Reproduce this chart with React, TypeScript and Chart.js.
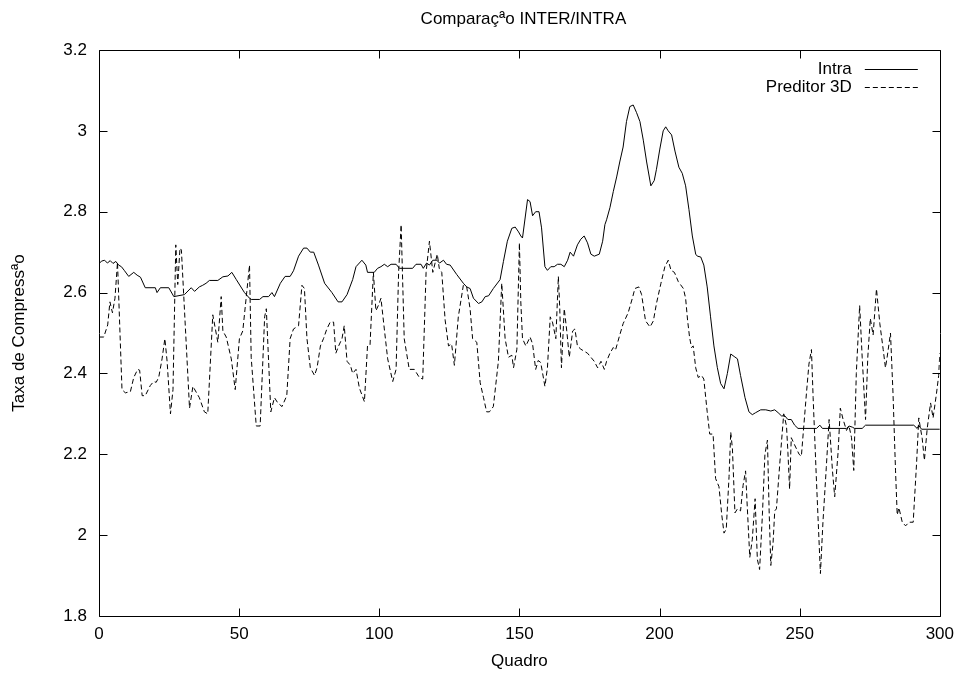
import React, { useEffect, useRef } from "react";
import { Chart, registerables } from "chart.js";

Chart.register(...registerables);

const chartTitle = "Comparaçªo INTER/INTRA";
const xTitle = "Quadro";
const yTitle = "Taxa de Compressªo";
const seriesNames = ["Intra", "Preditor 3D"];
const xTicks = [0, 50, 100, 150, 200, 250, 300];
const yTicks = [1.8, 2, 2.2, 2.4, 2.6, 2.8, 3, 3.2];

const intraFrames = [0,1,2,3,4,5,6,7,8,9,10.6,12.4,13.6,14.8,16.5,20.1,20.7,21.9,24.9,26.7,30.5,32.9,34.1,35.8,37,38.2,39.4,42.4,44.2,46,47.4,49,51.9,53.7,54.3,57.3,58.5,60.5,61.7,62.6,64.7,66.4,68.2,69.4,71.2,73,74.2,75.4,76.6,78.3,80.5,83.1,85.3,86.7,88.5,90.5,91.7,93.8,95.2,95.8,98.2,99.4,100.6,101.8,103,104.2,106,107.2,111.9,113.1,114.9,115.7,116.9,117.9,119.1,120.5,121.5,122.9,124,125.3,127.6,130,131.2,132.4,133.6,135.4,136.6,137.8,139,140.7,143.1,144.3,145.7,147.3,148.5,149.7,150.5,151.1,152.9,153.8,154.7,155.8,157,157.9,159.1,160,161.2,162.4,163.6,164.8,166,167.2,168.1,169.3,170.7,171.9,173.1,174.3,175.5,176.7,178.5,179.7,180.5,181.1,182.3,183.5,184.7,185.8,187,188.2,189.4,190.6,191.8,193,194.2,195.4,196.9,198.1,198.9,200.1,201.3,202.2,203.1,204.3,205.5,206.9,208.1,209.3,210.5,211.7,212.9,213.5,214.7,215.8,217,218.2,219.4,220.6,221.8,223,224.2,225.4,226.6,227.8,228.9,230.5,231.9,233.1,234.3,236.1,237.9,239.7,241.1,242.3,243.5,244.7,245.8,247,248.2,249.4,256,257.2,258.1,266.7,267.6,268.8,269.6,272.3,273.5,290.7,291.9,292.5,293.5,300];
const intraValues = [2.672,2.678,2.680,2.673,2.679,2.672,2.677,2.668,2.664,2.655,2.640,2.650,2.643,2.638,2.612,2.612,2.600,2.612,2.612,2.590,2.595,2.612,2.603,2.614,2.618,2.623,2.630,2.630,2.639,2.641,2.650,2.632,2.600,2.586,2.583,2.583,2.590,2.590,2.600,2.590,2.623,2.640,2.640,2.654,2.690,2.710,2.710,2.700,2.700,2.668,2.623,2.600,2.577,2.577,2.595,2.632,2.664,2.680,2.668,2.650,2.650,2.660,2.664,2.670,2.664,2.670,2.670,2.660,2.660,2.670,2.670,2.660,2.673,2.668,2.680,2.680,2.673,2.680,2.670,2.668,2.645,2.623,2.614,2.610,2.586,2.573,2.577,2.590,2.592,2.610,2.632,2.677,2.727,2.759,2.762,2.750,2.740,2.735,2.830,2.825,2.790,2.800,2.800,2.760,2.664,2.655,2.664,2.664,2.670,2.670,2.664,2.680,2.700,2.690,2.718,2.732,2.740,2.723,2.695,2.690,2.695,2.727,2.768,2.780,2.810,2.850,2.886,2.923,2.960,3.023,3.060,3.064,3.045,3.023,2.977,2.923,2.864,2.877,2.905,2.955,3.000,3.010,3.000,2.990,2.950,2.910,2.895,2.864,2.805,2.740,2.695,2.690,2.688,2.668,2.614,2.540,2.468,2.415,2.375,2.362,2.400,2.448,2.442,2.436,2.395,2.340,2.305,2.298,2.303,2.310,2.310,2.307,2.310,2.303,2.295,2.295,2.286,2.286,2.272,2.264,2.264,2.272,2.264,2.264,2.270,2.267,2.264,2.264,2.272,2.272,2.264,2.271,2.262,2.262];

const predFrames = [0,1.7,3.1,3.9,4.8,5.7,6.6,8.2,9.4,11.2,12.4,13.8,14.5,15.4,16.5,18.3,19.5,20.4,21.3,22.5,23.5,24.3,25.5,26.4,27.4,28.1,28.9,29.4,32.3,33.5,35.8,37.6,38.8,40.6,42.4,43.6,44.2,45.4,47.2,48.6,50.1,51.3,53.7,54.3,56.1,57.5,59.1,59.7,61.3,62.6,63.8,65.3,67,68.2,69.4,71.2,72.4,73.3,74.2,75.4,76.9,77.8,79,80.1,81.3,82.5,83.7,84.5,85.5,86.7,87.5,88.5,89.7,90.5,91.7,92.9,94.7,95.8,96.7,97.9,98.8,99.8,100.6,101.8,103,104.8,106,106.9,107.8,108.9,110.7,112.5,114.3,115.5,116.7,117.9,119.1,120.7,121.4,122.3,123.5,124.7,125.8,126.8,128.2,130,131.2,132.4,133.3,134.8,136,137.2,138.3,139.3,140.7,142.5,143.7,144.9,146.1,147.3,147.9,149.1,150,150.5,151.1,152.3,153.8,154.7,155.8,156.7,157.6,159.1,160,161,161.8,163,163.9,164.4,165,166,166.9,167.8,169,169.8,170.7,171.9,174.3,175.5,176.7,177.9,179.1,180.3,181.1,182.3,183.5,184.3,185.8,187,188.8,190.3,191.2,192.6,193.6,195,196.6,197.8,198.9,200.5,201.9,203.1,204.1,205.3,206.7,208.5,209.3,210,210.7,211.4,212,212.9,213.8,215,215.8,217,217.9,219.1,220,221.2,222.2,223,223.8,224.8,225.4,226,226.9,227.8,228.9,229.8,230.7,231.3,232.2,233.1,234.1,234.9,235.7,236.7,237.6,238.5,239.1,239.7,240.5,241.1,241.7,242.9,244.3,245.3,245.8,246.4,247,248.2,249.8,250.6,252.4,253.3,254.2,254.8,256,257.4,258.3,259.5,260.5,261.7,262.5,263.7,264.5,265.5,266.7,267.6,268.5,269.3,270.2,271.4,272.3,273.5,274.3,275.2,276.2,277.4,278.6,279.8,280.6,281.2,282.4,283.3,284.2,284.8,285.4,286.6,287.8,289,290.5,291.7,292.5,293.1,293.7,294.5,295.5,296.7,297.6,298.8,299.6,300];
const predValues = [2.490,2.490,2.520,2.577,2.550,2.586,2.675,2.360,2.352,2.355,2.390,2.410,2.408,2.345,2.345,2.370,2.380,2.378,2.390,2.436,2.486,2.430,2.300,2.360,2.718,2.620,2.710,2.705,2.314,2.368,2.340,2.305,2.300,2.545,2.477,2.590,2.505,2.490,2.436,2.360,2.486,2.505,2.668,2.440,2.270,2.270,2.540,2.560,2.305,2.340,2.327,2.318,2.345,2.486,2.510,2.518,2.618,2.610,2.486,2.414,2.395,2.414,2.468,2.486,2.510,2.527,2.527,2.450,2.468,2.486,2.518,2.430,2.420,2.400,2.410,2.364,2.330,2.468,2.470,2.650,2.555,2.570,2.586,2.510,2.436,2.380,2.410,2.650,2.768,2.486,2.410,2.410,2.390,2.386,2.650,2.727,2.650,2.695,2.660,2.650,2.532,2.468,2.473,2.420,2.540,2.618,2.614,2.560,2.486,2.477,2.377,2.340,2.305,2.305,2.318,2.430,2.623,2.486,2.440,2.445,2.414,2.460,2.723,2.577,2.486,2.468,2.490,2.473,2.410,2.432,2.427,2.368,2.414,2.540,2.527,2.486,2.640,2.560,2.414,2.560,2.505,2.440,2.505,2.510,2.468,2.460,2.450,2.440,2.430,2.414,2.430,2.410,2.430,2.450,2.464,2.458,2.495,2.523,2.550,2.586,2.610,2.614,2.595,2.530,2.515,2.530,2.573,2.623,2.664,2.680,2.655,2.650,2.627,2.610,2.586,2.532,2.490,2.464,2.468,2.414,2.390,2.395,2.386,2.305,2.250,2.250,2.140,2.120,2.050,2.005,2.015,2.145,2.255,2.214,2.055,2.065,2.060,2.123,2.159,2.070,1.945,1.990,2.090,1.940,1.915,2.050,2.200,2.235,2.060,1.925,1.980,2.060,2.065,2.177,2.300,2.270,2.205,2.114,2.241,2.223,2.200,2.195,2.350,2.423,2.459,2.340,2.132,1.905,2.032,2.168,2.286,2.159,2.095,2.205,2.314,2.286,2.259,2.270,2.241,2.160,2.400,2.568,2.440,2.286,2.440,2.536,2.495,2.609,2.523,2.459,2.414,2.440,2.500,2.350,2.159,2.050,2.068,2.032,2.023,2.032,2.032,2.177,2.290,2.264,2.240,2.185,2.264,2.327,2.290,2.350,2.395,2.450];

const FONT = '"Liberation Sans", Arial, Helvetica, sans-serif';
const FS = 17;

const framePlugin = {
  id: "gnuplotFrame",
  afterDraw(chart: any) {
    const { ctx, chartArea: a, scales } = chart;
    const xs = scales.x;
    const ys = scales.y;
    ctx.save();
    ctx.strokeStyle = "#000";
    ctx.lineWidth = 1;
    const L = Math.round(a.left) + 0.5;
    const R = Math.round(a.right) + 0.5;
    const T = Math.round(a.top) + 0.5;
    const B = Math.round(a.bottom) + 0.5;
    ctx.beginPath();
    ctx.rect(L, T, R - L, B - T);
    const tl = 8;
    xs.ticks.forEach((t: any) => {
      const p = Math.round(xs.getPixelForValue(t.value)) + 0.5;
      ctx.moveTo(p, B); ctx.lineTo(p, B - tl);
      ctx.moveTo(p, T); ctx.lineTo(p, T + tl);
    });
    ys.ticks.forEach((t: any) => {
      const p = Math.round(ys.getPixelForValue(t.value)) + 0.5;
      ctx.moveTo(L, p); ctx.lineTo(L + tl, p);
      ctx.moveTo(R, p); ctx.lineTo(R - tl, p);
    });
    ctx.stroke();

    // title
    ctx.fillStyle = "#000";
    ctx.font = `${FS}px ${FONT}`;
    ctx.textAlign = "center";
    ctx.textBaseline = "middle";
    ctx.fillText(chartTitle, (a.left + a.right) / 2 + 4, 19);

    // legend (gnuplot style: text right-aligned, sample to the right)
    chart.data.datasets.forEach((ds: any, i: number) => {
      const y = 69 + i * 18;
      ctx.textAlign = "right";
      ctx.fillText(ds.label, a.right - 88, y);
      ctx.beginPath();
      ctx.setLineDash(ds.borderDash || []);
      const ly = Math.round(y) + 0.5;
      ctx.moveTo(a.right - 75, ly);
      ctx.lineTo(a.right - 22, ly);
      ctx.stroke();
      ctx.setLineDash([]);
    });
    ctx.restore();
  },
};

export default function App() {
  const ref = useRef<HTMLCanvasElement | null>(null);
  useEffect(() => {
    if (!ref.current) return;
    const chart = new Chart(ref.current, {
      type: "line",
      data: {
        datasets: [
          {
            label: seriesNames[0],
            data: intraFrames.map((x, i) => ({ x, y: intraValues[i] })),
            borderColor: "#000",
            borderWidth: 1,
            pointRadius: 0,
            tension: 0,
            fill: false,
          },
          {
            label: seriesNames[1],
            data: predFrames.map((x, i) => ({ x, y: predValues[i] })),
            borderColor: "#000",
            borderWidth: 1,
            borderDash: [5, 3],
            pointRadius: 0,
            tension: 0,
            fill: false,
          },
        ],
      },
      options: {
        animation: false,
        responsive: false,
        maintainAspectRatio: false,
        layout: { padding: { top: 50, right: 22, left: 0, bottom: 0 } },
        plugins: {
          legend: { display: false },
          title: { display: false },
          tooltip: { enabled: false },
        },
        scales: {
          x: {
            type: "linear",
            min: 0,
            max: 300,
            grid: { display: false, drawTicks: false },
            border: { display: false },
            afterBuildTicks: (s: any) => {
              s.ticks = xTicks.map((v) => ({ value: v }));
            },
            afterFit: (s: any) => {
              s.height = 59;
            },
            ticks: {
              color: "#000",
              padding: 8,
              maxRotation: 0,
              font: { family: FONT, size: FS },
              callback: (v: any) => String(v),
            },
            title: {
              display: true,
              text: xTitle,
              color: "#000",
              font: { family: FONT, size: FS },
              padding: { top: 0, bottom: 3 },
            },
          },
          y: {
            type: "linear",
            min: 1.8,
            max: 3.2,
            grid: { display: false, drawTicks: false },
            border: { display: false },
            afterBuildTicks: (s: any) => {
              s.ticks = yTicks.map((v) => ({ value: v }));
            },
            afterFit: (s: any) => {
              s.width = 99;
            },
            ticks: {
              color: "#000",
              padding: 12,
              font: { family: FONT, size: FS },
              callback: (v: any) => String(Math.round(v * 10) / 10),
            },
            title: {
              display: true,
              text: yTitle,
              color: "#000",
              font: { family: FONT, size: FS },
              padding: { top: 9, bottom: 0 },
            },
          },
        },
      },
      plugins: [framePlugin],
    });
    return () => chart.destroy();
  }, []);
  return (
    <div style={{ position: "fixed", left: 0, top: 0, width: 962, height: 675, background: "#fff" }}>
      <canvas ref={ref} width={962} height={675} style={{ display: "block" }} />
    </div>
  );
}
